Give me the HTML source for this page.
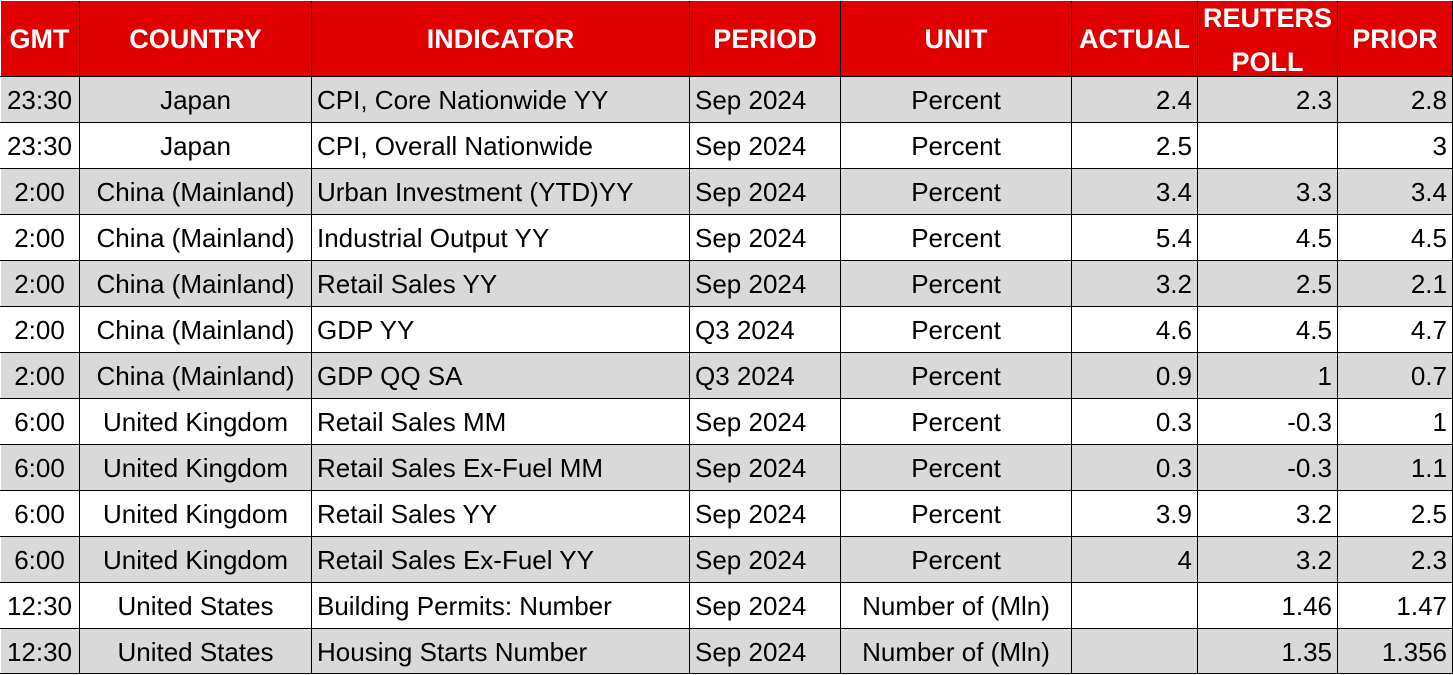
<!DOCTYPE html>
<html>
<head>
<meta charset="utf-8">
<style>
html,body{margin:0;padding:0;}
body{width:1453px;height:675px;position:relative;overflow:hidden;background:#fff;font-family:"Liberation Sans",Arial,sans-serif;}
.hdr{position:absolute;left:1px;top:1px;width:1452px;height:75px;background:#E00000;}
.row{position:absolute;left:1px;width:1452px;height:45px;}
.g{background:#D9D9D9;}
.w{background:#fff;}
.c{position:absolute;top:1px;height:45px;line-height:45px;font-size:26px;color:#000;white-space:nowrap;box-sizing:border-box;}
.h{position:absolute;top:0px;height:76px;line-height:76px;font-size:27px;font-weight:bold;color:#fff;text-align:center;white-space:nowrap;}
.hl{position:absolute;left:0;width:1453px;height:1px;background:#000;}
.vl{position:absolute;top:1px;width:1px;height:673px;background:#000;}
.c0{left:-1px;width:79px;text-align:center;}
.c1{left:79px;width:231px;text-align:center;}
.c2{left:311px;width:377px;text-align:left;padding-left:5px;}
.c3{left:689px;width:150px;text-align:left;padding-left:5px;}
.c4{left:840px;width:230px;text-align:center;}
.c5{left:1071px;width:125px;text-align:right;padding-right:5px;}
.c6{left:1197px;width:139px;text-align:right;padding-right:5px;}
.c7{left:1337px;width:114px;text-align:right;padding-right:5px;}
</style>
</head>
<body>
<div class="hdr">
  <div class="h" style="left:-1px;width:79px;">GMT</div>
  <div class="h" style="left:79px;width:231px;">COUNTRY</div>
  <div class="h" style="left:311px;width:377px;">INDICATOR</div>
  <div class="h" style="left:689px;width:150px;">PERIOD</div>
  <div class="h" style="left:840px;width:230px;">UNIT</div>
  <div class="h" style="left:1071px;width:125px;">ACTUAL</div>
  <div class="h" style="left:1197px;width:139px;top:-5px;height:88px;line-height:44px;">REUTERS<br>POLL</div>
  <div class="h" style="left:1337px;width:114px;">PRIOR</div>
</div>

<div class="row g" style="top:77px;">
  <div class="c c0">23:30</div><div class="c c1">Japan</div><div class="c c2">CPI, Core Nationwide YY</div><div class="c c3">Sep 2024</div><div class="c c4">Percent</div><div class="c c5">2.4</div><div class="c c6">2.3</div><div class="c c7">2.8</div>
</div>
<div class="row w" style="top:123px;">
  <div class="c c0">23:30</div><div class="c c1">Japan</div><div class="c c2">CPI, Overall Nationwide</div><div class="c c3">Sep 2024</div><div class="c c4">Percent</div><div class="c c5">2.5</div><div class="c c6"></div><div class="c c7">3</div>
</div>
<div class="row g" style="top:169px;">
  <div class="c c0">2:00</div><div class="c c1">China (Mainland)</div><div class="c c2">Urban Investment (YTD)YY</div><div class="c c3">Sep 2024</div><div class="c c4">Percent</div><div class="c c5">3.4</div><div class="c c6">3.3</div><div class="c c7">3.4</div>
</div>
<div class="row w" style="top:215px;">
  <div class="c c0">2:00</div><div class="c c1">China (Mainland)</div><div class="c c2">Industrial Output YY</div><div class="c c3">Sep 2024</div><div class="c c4">Percent</div><div class="c c5">5.4</div><div class="c c6">4.5</div><div class="c c7">4.5</div>
</div>
<div class="row g" style="top:261px;">
  <div class="c c0">2:00</div><div class="c c1">China (Mainland)</div><div class="c c2">Retail Sales YY</div><div class="c c3">Sep 2024</div><div class="c c4">Percent</div><div class="c c5">3.2</div><div class="c c6">2.5</div><div class="c c7">2.1</div>
</div>
<div class="row w" style="top:307px;">
  <div class="c c0">2:00</div><div class="c c1">China (Mainland)</div><div class="c c2">GDP YY</div><div class="c c3">Q3 2024</div><div class="c c4">Percent</div><div class="c c5">4.6</div><div class="c c6">4.5</div><div class="c c7">4.7</div>
</div>
<div class="row g" style="top:353px;">
  <div class="c c0">2:00</div><div class="c c1">China (Mainland)</div><div class="c c2">GDP QQ SA</div><div class="c c3">Q3 2024</div><div class="c c4">Percent</div><div class="c c5">0.9</div><div class="c c6">1</div><div class="c c7">0.7</div>
</div>
<div class="row w" style="top:399px;">
  <div class="c c0">6:00</div><div class="c c1">United Kingdom</div><div class="c c2">Retail Sales MM</div><div class="c c3">Sep 2024</div><div class="c c4">Percent</div><div class="c c5">0.3</div><div class="c c6">-0.3</div><div class="c c7">1</div>
</div>
<div class="row g" style="top:445px;">
  <div class="c c0">6:00</div><div class="c c1">United Kingdom</div><div class="c c2">Retail Sales Ex-Fuel MM</div><div class="c c3">Sep 2024</div><div class="c c4">Percent</div><div class="c c5">0.3</div><div class="c c6">-0.3</div><div class="c c7">1.1</div>
</div>
<div class="row w" style="top:491px;">
  <div class="c c0">6:00</div><div class="c c1">United Kingdom</div><div class="c c2">Retail Sales YY</div><div class="c c3">Sep 2024</div><div class="c c4">Percent</div><div class="c c5">3.9</div><div class="c c6">3.2</div><div class="c c7">2.5</div>
</div>
<div class="row g" style="top:537px;">
  <div class="c c0">6:00</div><div class="c c1">United Kingdom</div><div class="c c2">Retail Sales Ex-Fuel YY</div><div class="c c3">Sep 2024</div><div class="c c4">Percent</div><div class="c c5">4</div><div class="c c6">3.2</div><div class="c c7">2.3</div>
</div>
<div class="row w" style="top:583px;">
  <div class="c c0">12:30</div><div class="c c1">United States</div><div class="c c2">Building Permits: Number</div><div class="c c3">Sep 2024</div><div class="c c4">Number of (Mln)</div><div class="c c5"></div><div class="c c6">1.46</div><div class="c c7">1.47</div>
</div>
<div class="row g" style="top:629px;height:44px;">
  <div class="c c0">12:30</div><div class="c c1">United States</div><div class="c c2">Housing Starts Number</div><div class="c c3">Sep 2024</div><div class="c c4">Number of (Mln)</div><div class="c c5"></div><div class="c c6">1.35</div><div class="c c7">1.356</div>
</div>

<!-- horizontal lines -->
<div class="hl" style="top:76px;"></div>
<div class="hl" style="top:122px;"></div>
<div class="hl" style="top:168px;"></div>
<div class="hl" style="top:214px;"></div>
<div class="hl" style="top:260px;"></div>
<div class="hl" style="top:306px;"></div>
<div class="hl" style="top:352px;"></div>
<div class="hl" style="top:398px;"></div>
<div class="hl" style="top:444px;"></div>
<div class="hl" style="top:490px;"></div>
<div class="hl" style="top:536px;"></div>
<div class="hl" style="top:582px;"></div>
<div class="hl" style="top:628px;"></div>
<div class="hl" style="top:673px;"></div>

<!-- vertical lines -->
<div class="vl" style="left:79px;"></div>
<div class="vl" style="left:311px;"></div>
<div class="vl" style="left:689px;"></div>
<div class="vl" style="left:840px;"></div>
<div class="vl" style="left:1071px;"></div>
<div class="vl" style="left:1197px;"></div>
<div class="vl" style="left:1337px;"></div>
<div class="vl" style="left:1452px;"></div>
</body>
</html>
